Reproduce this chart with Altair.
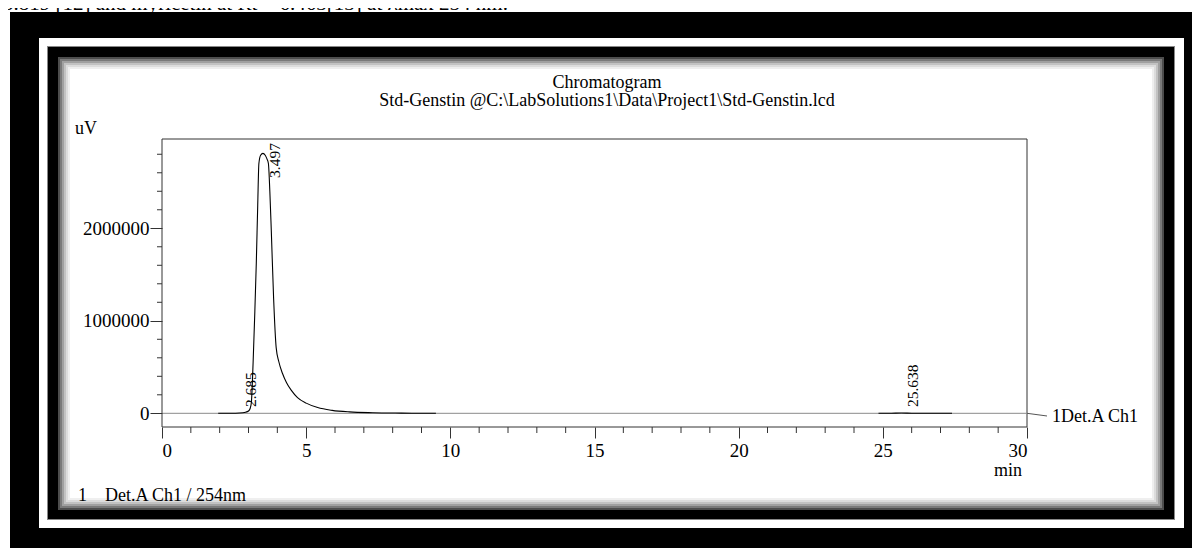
import altair as alt
import pandas as pd

# ---------------- data ----------------
trace1_time = [1.95, 2.3, 2.685, 2.9, 3.0, 3.06, 3.10, 3.16, 3.22, 3.27, 3.32, 3.36,
               3.42, 3.50, 3.58, 3.64, 3.69, 3.74, 3.79, 3.87, 3.96, 4.05, 4.18,
               4.32, 4.48, 4.7, 5.0, 5.4, 5.9, 6.5, 7.3, 8.3, 9.5]
trace1_uv = [0, 1000, 4000, 12000, 25000, 55000, 120000, 550000, 1100000, 1620000,
             2250000, 2700000, 2790000, 2810000, 2790000, 2750000, 2700000, 2400000,
             1980000, 1250000, 710000, 560000, 430000, 330000, 250000, 170000,
             110000, 62000, 32000, 15000, 6000, 2000, 0]
trace2_time = [24.85, 25.3, 25.638, 26.0, 26.5, 27.4]
trace2_uv = [0, 800, 3000, 1000, 200, 0]

peak_rt = [2.685, 3.497, 25.638]
peak_text = ["2.685", "3.497", "25.638"]
peak_label_uv = [68000, 2544000, 68000]

x_major = [0, 5, 10, 15, 20, 25, 30]
x_minor = [1, 2, 3, 4, 6, 7, 8, 9, 11, 12, 13, 14, 16, 17, 18, 19, 21, 22, 23, 24,
           26, 27, 28, 29]
y_major = [0, 1000000, 2000000]
y_minor = [200000, 400000, 600000, 800000, 1200000, 1400000, 1600000, 1800000,
           2200000, 2400000, 2600000, 2800000]
zero_level = [0]

x_domain = [0, 30]
y_domain = [-148000, 2965000]

# ---------------- tables ----------------
trace = pd.DataFrame({
    "t": trace1_time + trace2_time,
    "uv": trace1_uv + trace2_uv,
    "seg": ["a"] * len(trace1_time) + ["b"] * len(trace2_time),
})
peaks = pd.DataFrame({"t": peak_rt, "uv": peak_label_uv, "label": peak_text})
xminor = pd.DataFrame({"t": x_minor})
yminor = pd.DataFrame({"uv": y_minor})
zero = pd.DataFrame({"uv": zero_level})
one = pd.DataFrame({"k": [0]})

FONT = "Liberation Serif"
W, H = 865, 288
frame_col = "#333333"
xs = alt.Scale(domain=x_domain, nice=False, zero=False)
ys = alt.Scale(domain=y_domain, nice=False, zero=False)
AX = alt.Axis(values=x_major, tickSize=11, labelPadding=3, domain=False, grid=False,
              title=None, labelFont=FONT, labelFontSize=19, labelColor="black",
              tickColor=frame_col, zindex=1)
AY = alt.Axis(values=y_major, format="d", tickSize=12, labelPadding=1, domain=False,
              grid=False, title=None, labelFont=FONT, labelFontSize=19,
              labelColor="black", tickColor=frame_col, zindex=1)


def X(f):
    return alt.X(f, scale=xs, axis=AX)


def Y(f):
    return alt.Y(f, scale=ys, axis=AY)


def box(x1, y1, x2, y2, color):
    return alt.Chart(one).mark_rect(fill=color).encode(
        x=alt.value(x1), x2=alt.value(x2), y=alt.value(y1), y2=alt.value(y2))


def label(txt, x, y, size=18, align="left"):
    return alt.Chart(one).mark_text(
        text=txt, font=FONT, fontSize=size, align=align, baseline="alphabetic",
        color="black").encode(x=alt.value(x), y=alt.value(y))


# frame (pixel offsets from the plot origin)
layers = [
    box(-152, -127, 1038, 410, "black"),
    box(-123, -101, 1022, 389, "white"),
    box(-115, -93, 1013, 381, "#888888"),
    box(-114, -92, 1012, 380, "black"),
]
shades = ["#4d4d4d", "#7a7a7a", "#a0a0a0", "#c2c2c2", "#dcdcdc", "#efefef", "#ffffff"]
x1, y1, x2, y2 = -104, -82, 1002, 371
for i, c in enumerate(shades):
    d = 2 * i
    layers.append(box(x1 + d, y1 + d, x2 - d, y2 - d, c))

# caption line cut by the top edge, as in the source
layers.append(label("3.819 [12] and myricetin at Rt = 6.463[13] at  \u03bbmax 254 nm.",
                    -159, -129, size=21))

# plot box
for (a, b, c, d) in [(0, 0, W, 0), (0, H, W, H), (0, 0, 0, H), (W, 0, W, H)]:
    layers.append(alt.Chart(one).mark_rule(color=frame_col, strokeWidth=1).encode(
        x=alt.value(a), y=alt.value(b), x2=alt.value(c), y2=alt.value(d)))

# zero reference line and connector
layers.append(alt.Chart(zero).mark_rule(color="#8a8a8a", strokeWidth=1).encode(
    y=Y("uv:Q"), x=alt.value(0), x2=alt.value(W)))
layers.append(alt.Chart(one).mark_rule(color="#555555", strokeWidth=1).encode(
    x=alt.value(W), x2=alt.value(885), y=alt.value(274.3), y2=alt.value(277)))

# minor ticks
layers.append(alt.Chart(xminor).mark_rule(color=frame_col, strokeWidth=1).encode(
    x=X("t:Q"), y=alt.value(H), y2=alt.value(H + 6)))
layers.append(alt.Chart(yminor).mark_rule(color=frame_col, strokeWidth=1).encode(
    y=Y("uv:Q"), x=alt.value(-5), x2=alt.value(0)))

# chromatogram trace
layers.append(alt.Chart(trace).mark_line(
    color="black", strokeWidth=1.1, interpolate="monotone").encode(
    x=X("t:Q"), y=Y("uv:Q"), detail="seg:N"))

# peak labels
layers.append(alt.Chart(peaks).mark_text(
    angle=270, align="left", baseline="middle", dy=12, font=FONT, fontSize=15.5,
    color="black").encode(x=X("t:Q"), y=Y("uv:Q"), text="label:N"))

layers += [
    label("Chromatogram", 445, -51, align="center"),
    label("Std-Genstin @C:\\LabSolutions1\\Data\\Project1\\Std-Genstin.lcd", 445, -33,
          align="center"),
    label("uV", -87, -5),
    label("min", 846, 337, align="center"),
    label("1Det.A Ch1", 890, 283),
    label("1", -84, 362),
    label("Det.A Ch1 / 254nm", -57, 362),
]

chart = alt.layer(*layers).properties(
    width=W, height=H,
    autosize=alt.AutoSizeParams(type="none"),
    padding={"left": 154, "top": 131, "right": 165, "bottom": 121},
    background="white",
).configure_view(strokeWidth=0)

chart.save("out.html", embed_options={"renderer": "svg", "actions": False})
